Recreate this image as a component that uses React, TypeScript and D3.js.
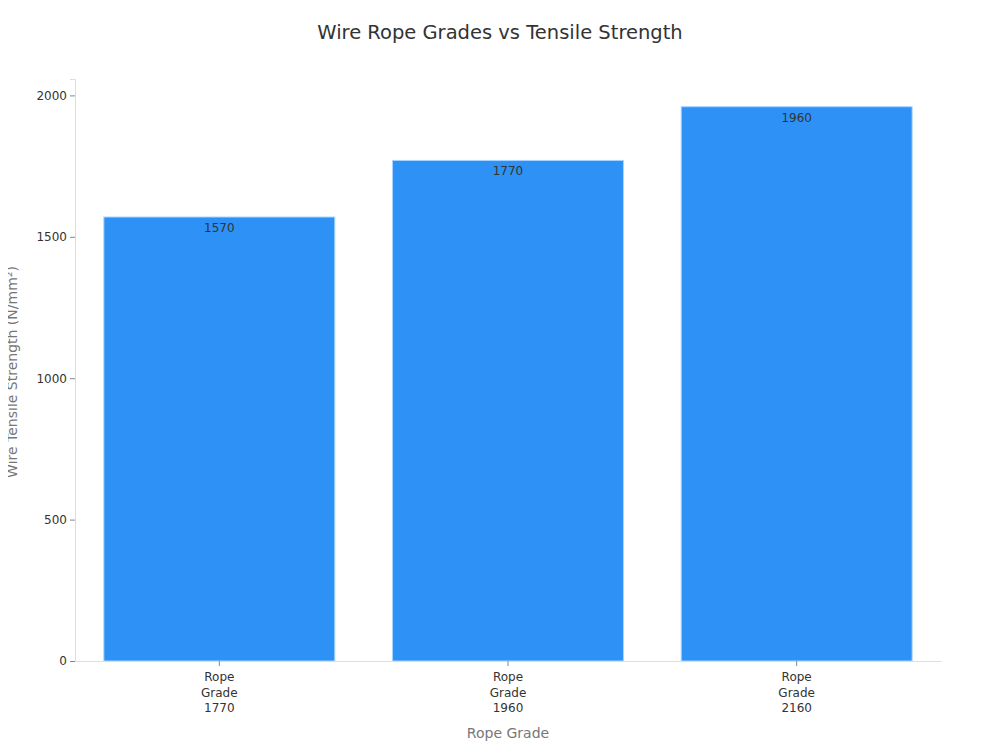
import { useEffect, useRef } from 'react'
import * as d3 from 'd3'

const grades = ['Rope Grade 1770', 'Rope Grade 1960', 'Rope Grade 2160']
const strengths = [1570, 1770, 1960]
const yTicks = [0, 500, 1000, 1500, 2000]

const WIDTH = 1000
const HEIGHT = 750
const M = { top: 79, right: 59, bottom: 89, left: 75 }
const FONT = '"DejaVu Sans", sans-serif'

export default function App() {
  const svgRef = useRef<SVGSVGElement>(null)

  useEffect(() => {
    if (!svgRef.current) return
    const svg = d3.select(svgRef.current)
    svg.selectAll('*').remove()

    const x = d3
      .scaleBand<string>()
      .domain(grades)
      .range([M.left, WIDTH - M.right])
      .paddingInner(0.2)
      .paddingOuter(0.1)

    const y = d3
      .scaleLinear()
      .domain([0, (d3.max(strengths) ?? 0) * 1.05])
      .range([HEIGHT - M.bottom, M.top])

    // title
    svg
      .append('text')
      .attr('x', WIDTH / 2)
      .attr('y', 39)
      .attr('text-anchor', 'middle')
      .attr('font-size', 19.5)
      .attr('fill', '#333')
      .text('Wire Rope Grades vs Tensile Strength')

    // y axis
    const yAxis = svg
      .append('g')
      .attr('transform', `translate(${M.left},0)`)
      .call(d3.axisLeft(y).tickValues(yTicks).tickFormat(d3.format('d')).tickSize(5).tickPadding(3))
    yAxis.select('.domain').attr('stroke', '#ddd')
    yAxis.selectAll('.tick line').attr('stroke', '#888')
    yAxis
      .selectAll('.tick text')
      .attr('fill', '#333')
      .attr('font-size', 12)
      .attr('font-family', FONT)

    // bars
    const data = grades.map((g, i) => ({ g, v: strengths[i] }))
    svg
      .append('g')
      .selectAll('rect')
      .data(data)
      .join('rect')
      .attr('x', (d) => x(d.g)!)
      .attr('y', (d) => y(d.v))
      .attr('width', x.bandwidth())
      .attr('height', (d) => y(0) - y(d.v))
      .attr('fill', '#2d91f6')
      .attr('stroke', '#a8d4ff')
      .attr('stroke-width', 1)

    svg
      .append('g')
      .selectAll('text')
      .data(data)
      .join('text')
      .attr('x', (d) => x(d.g)! + x.bandwidth() / 2)
      .attr('y', (d) => y(d.v) + 15)
      .attr('text-anchor', 'middle')
      .attr('font-size', 12)
      .attr('fill', '#333')
      .attr('font-family', FONT)
      .text((d) => d.v)

    // x axis
    const xAxis = svg
      .append('g')
      .attr('transform', `translate(0,${y(0)})`)
      .call(d3.axisBottom(x).tickSize(5).tickSizeOuter(0))
    xAxis.select('.domain').attr('stroke', '#ddd')
    xAxis.selectAll('.tick line').attr('stroke', '#888')
    xAxis.selectAll('.tick text').remove()
    xAxis
      .selectAll<SVGGElement, string>('.tick')
      .append('text')
      .attr('text-anchor', 'middle')
      .attr('font-size', 12)
      .attr('font-family', FONT)
      .attr('fill', '#333')
      .selectAll('tspan')
      .data((d) => d.split(' '))
      .join('tspan')
      .attr('x', 0)
      .attr('y', (_, i) => 20 + i * 15.5)
      .text((w) => w)

    // axis titles
    svg
      .append('text')
      .attr('x', x('Rope Grade 1960')! + x.bandwidth() / 2)
      .attr('y', 738)
      .attr('text-anchor', 'middle')
      .attr('font-size', 14)
      .attr('fill', '#777')
      .text('Rope Grade')

    svg
      .append('text')
      .attr('transform', `translate(17,372) rotate(-90)`)
      .attr('text-anchor', 'middle')
      .attr('font-size', 14)
      .attr('fill', '#777')
      .text('Wire Tensile Strength (N/mm²)')
  }, [])

  return (
    <svg
      ref={svgRef}
      width={WIDTH}
      height={HEIGHT}
      style={{ display: 'block', margin: -8, fontFamily: FONT, background: '#fff' }}
    />
  )
}
